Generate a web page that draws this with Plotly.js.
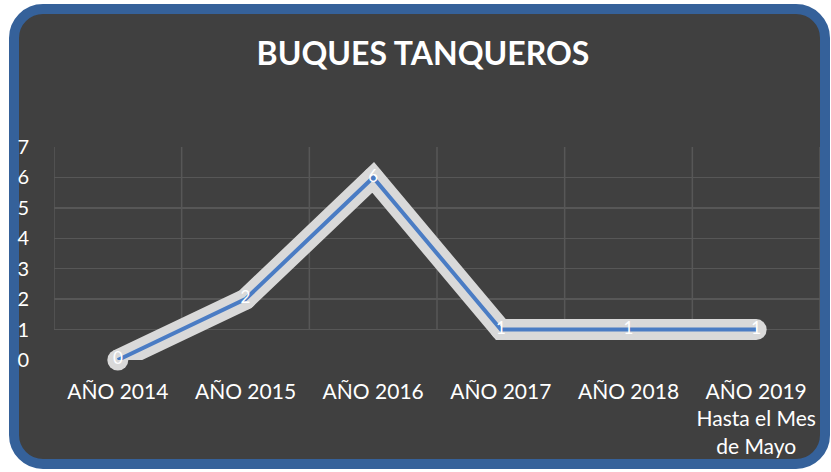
<!DOCTYPE html>
<html><head><meta charset="utf-8">
<script src="https://cdn.plot.ly/plotly-3.0.1.min.js"></script>
<style>
html,body{margin:0;padding:0;background:#ffffff;}
#frame{position:absolute;left:9px;top:4px;width:821px;height:465px;box-sizing:border-box;border:10px solid #35619A;border-radius:34px;background:#404040;}
#chart{position:absolute;left:0;top:0;width:831px;height:472px;}
</style></head>
<body>
<div id="frame"></div>
<div id="chart"></div>
<script>
const categories = ["AÑO 2014","AÑO 2015","AÑO 2016","AÑO 2017","AÑO 2018","AÑO 2019<br>Hasta el Mes<br>de Mayo"];
const values = [0,2,6,1,1,1];
const yTicks = [0,1,2,3,4,5,6,7];

const glow = {
  x: categories, y: values, type:'scatter', mode:'lines+markers',
  line:{color:'#D9D9D9', width:21, shape:'linear'},
  marker:{color:'#D9D9D9', size:21, line:{width:0}},
  hoverinfo:'skip', showlegend:false, cliponaxis:false
};
const main = {
  x: categories, y: values, type:'scatter', mode:'lines+text',
  line:{color:'#4A7CC4', width:4},
  text: values.map(String), textposition:'middle center',
  textfont:{family:'Lato, sans-serif', size:17, color:'#FFFFFF'},
  showlegend:false, cliponaxis:false
};
const layout = {
  width:831, height:472,
  paper_bgcolor:'rgba(0,0,0,0)', plot_bgcolor:'rgba(0,0,0,0)',
  margin:{l:54, r:11, t:147, b:112},
  title:{text:'<b>BUQUES TANQUEROS</b>', x:0.509, xanchor:'center', y:0.885, yanchor:'middle',
         font:{family:'Lato, sans-serif', size:32, color:'#FFFFFF'}},
  xaxis:{type:'category', range:[-0.5,5.5], showgrid:false, zeroline:false, showline:false,
         ticks:'', tickfont:{family:'Lato, sans-serif', size:21, color:'#FFFFFF'},
         ticklabelstandoff:17, fixedrange:true},
  yaxis:{range:[0,7], tickvals:yTicks, ticktext:yTicks.map(String), showgrid:true, gridcolor:'#575757', gridwidth:1.5,
         zeroline:false, showline:false, ticks:'',
         tickfont:{family:'Lato, sans-serif', size:20, color:'#FFFFFF'},
         ticklabelstandoff:24, fixedrange:true},
  shapes: [0,1,2,3,4,5,6].map(i=>({type:'line', xref:'x', yref:'y', x0:i-0.5, x1:i-0.5, y0:1, y1:7,
          line:{color:'#575757', width:1.5}, layer:'below'}))
};
Plotly.newPlot('chart', [glow, main], layout, {displayModeBar:false, staticPlot:true});
</script>
</body></html>
